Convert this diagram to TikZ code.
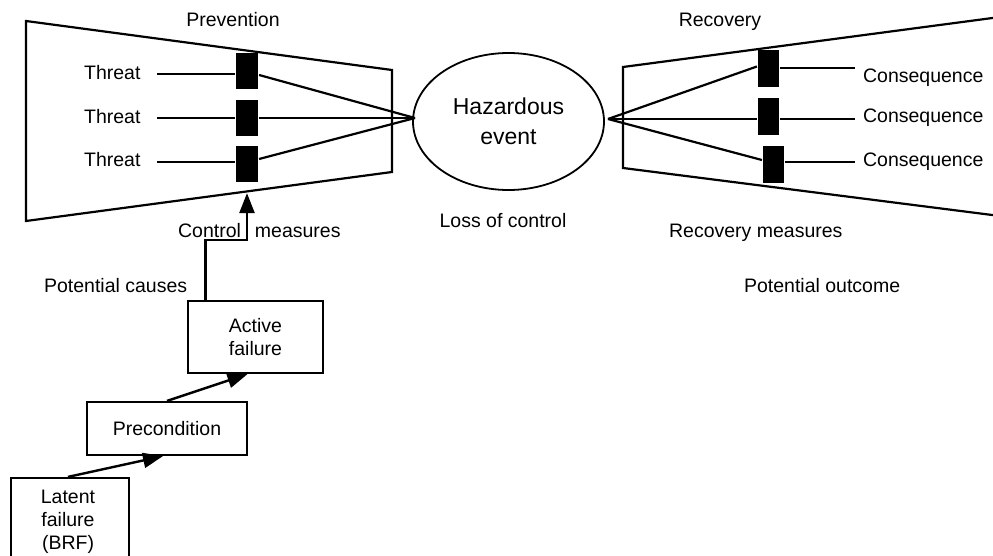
\documentclass[tikz,border=0pt]{standalone}
\usepackage{fontspec}
\setmainfont{Liberation Sans}
\usetikzlibrary{shapes.geometric,arrows.meta}
\begin{document}
\begin{tikzpicture}[x=1pt,y=-1pt,
  line width=2.2pt, line join=miter,
  lbl/.style={inner sep=0pt, font=\fontsize{19.5}{23}\selectfont},
  barrier/.style={fill=black, draw=none, minimum width=22pt, minimum height=36pt, inner sep=0pt},
  stage/.style={draw, line width=2.2pt, inner sep=0pt, align=center, font=\fontsize{19.5}{23}\selectfont},
  flow/.style={line width=2.4pt, -{Triangle[length=20pt 0,width=15pt 0]}},
]
\useasboundingbox (0,0) rectangle (993,556);
\clip (0,0) rectangle (993,556);

% ---------- prevention side (left bow) ----------
\draw (26,21) -- (392,70) -- (392,172) -- (26,221) -- cycle;
\node[lbl, anchor=base] (prevention) at (233,27) {Prevention};

\node[barrier] (b1) at (247,71) {};
\node[barrier] (b2) at (247,118) {};
\node[barrier] (b3) at (247,164) {};

\node[lbl, anchor=base west] (t1) at (83,80) {Threat};
\node[lbl, anchor=base west] (t2) at (83,124) {Threat};
\node[lbl, anchor=base west] (t3) at (83,167) {Threat};

\coordinate (t1s) at (157,74);
\coordinate (t2s) at (157,118);
\coordinate (t3s) at (157,162);
\draw (t1s) -- (t1s -| b1.west);
\draw (t2s) -- (t2s -| b2.west);
\draw (t3s) -- (t3s -| b3.west);

% ---------- top event ----------
\node[ellipse, draw, line width=1.8pt, minimum width=191pt, minimum height=137pt,
      inner sep=0pt, align=center, font=\fontsize{23}{30}\selectfont]
      (event) at (508.5,121.5) {Hazardous\\event};
\node[lbl, anchor=base] (loss) at (503,227) {Loss of control};

\coordinate (apexL) at (415,118);
\draw ([yshift=-4pt]b1.east) -- (apexL);
\draw (b2.east) -- (apexL);
\draw ([yshift=5pt]b3.east) -- (apexL);

% ---------- recovery side (right bow) ----------
\draw (1000,17) -- (623,67) -- (623,168) -- (1000,216);
\node[lbl, anchor=base] (recovery) at (720,27) {Recovery};

\node[barrier, minimum width=21pt, minimum height=37pt] (r1) at (768.5,68.5) {};
\node[barrier, minimum width=21pt, minimum height=37pt] (r2) at (768.5,117) {};
\node[barrier, minimum width=21pt, minimum height=37pt] (r3) at (773.5,165) {};

\coordinate (apexR) at (608,119);
\draw (apexR) -- ([yshift=2pt]r1.west);
\draw (apexR) -- ([yshift=-2pt]r2.west);
\draw (apexR) -- ([yshift=5pt]r3.west);

\coordinate (c1e) at (855,68);
\coordinate (c2e) at (855,119);
\coordinate (c3e) at (855,162);
\draw (c1e -| r1.east) -- (c1e);
\draw (c2e -| r2.east) -- (c2e);
\draw (c3e -| r3.east) -- (c3e);

\node[lbl, anchor=base west] (q1) at (862,83) {Consequence};
\node[lbl, anchor=base west] (q2) at (862,123) {Consequence};
\node[lbl, anchor=base west] (q3) at (862,167) {Consequence};

\node[lbl, anchor=base west] (recmeas) at (668,237) {Recovery measures};
\node[lbl, anchor=base west] (outcome) at (743,292) {Potential outcome};

% ---------- causal chain ----------
\node[lbl, anchor=base west] (ctrl) at (177,237) {Control\hspace{14pt}measures};
\node[lbl, anchor=base west] (causes) at (43,292) {Potential causes};

\node[stage, minimum width=135pt, minimum height=72pt] (active) at (255.5,337) {Active\\failure};
\node[stage, minimum width=160pt, minimum height=53pt] (prec) at (167,428.5) {Precondition};
\node[draw, line width=2.2pt, minimum width=118pt, minimum height=100pt, inner sep=0pt] (latent) at (70,528) {};
\node[lbl, align=center, anchor=north] (latentlbl) at (68,489) {Latent\\failure\\(BRF)};

\draw[flow] ([xshift=-50pt]active.north) -- ++(0,-60) -| ([yshift=-10pt]b3.south);
\draw[flow] (prec.north) -- ([xshift=-8pt]active.south);
\draw[flow] ([xshift=-2pt]latent.north) -- ([xshift=-4pt]prec.south);
\end{tikzpicture}
\end{document}
